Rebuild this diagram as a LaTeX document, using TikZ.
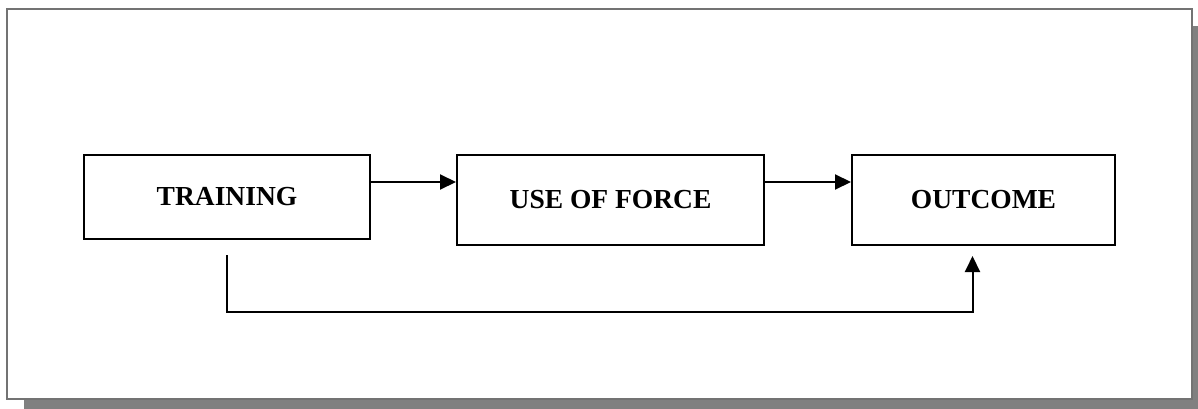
\documentclass[tikz,border=0pt]{standalone}
\usepackage{fontspec}
\setmainfont{Liberation Serif}
\usetikzlibrary{arrows.meta, positioning, calc}

\begin{document}
\begin{tikzpicture}[x=1pt, y=-1pt,
    stage/.style={draw, rectangle, line width=2pt, inner sep=0pt,
        font=\fontsize{27.5}{32}\selectfont\bfseries},
    link/.style={line width=2pt, -{Triangle[length=16pt, width=15pt]}}]
    \useasboundingbox (0,0) rectangle (1198,409);
    % frame with shadow
    \fill[gray] (24,26) rectangle (1198,409);
    \draw[fill=white, draw=black!55, line width=1.8pt] (7,9) rectangle (1192,399);

    \node[stage, minimum width=286pt, minimum height=84pt] (train) at (227, 197) {TRAINING};
    \node[stage, minimum width=307pt, minimum height=90pt] (force) at (610.5, 200) {USE OF FORCE};
    \node[stage, minimum width=263pt, minimum height=90pt] (outcome) at (983.5, 200) {OUTCOME};

    \draw[link] ([yshift=-28pt]train.north east) -- ([yshift=-28pt]force.north west);
    \draw[link] ([yshift=-28pt]force.north east) -- ([yshift=-28pt]outcome.north west);
    \draw[link] ([yshift=-15pt]train.south) -- ++(0,57) -| ([xshift=-11pt, yshift=-10pt]outcome.south);
\end{tikzpicture}
\end{document}
